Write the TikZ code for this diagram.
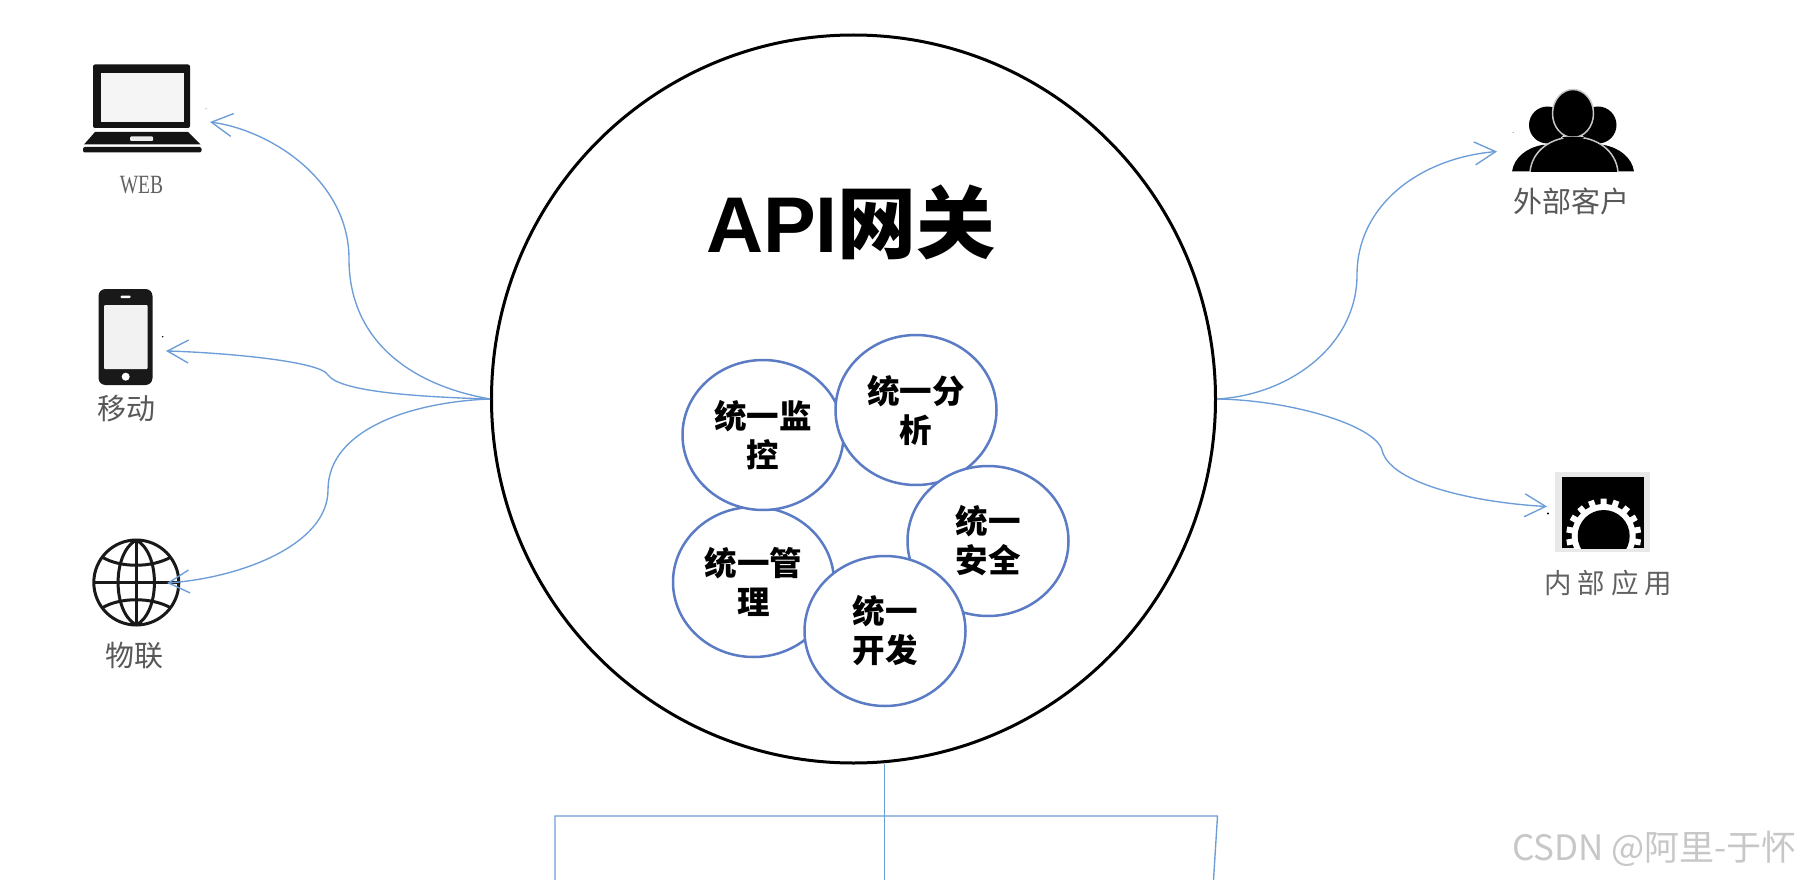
\documentclass[tikz,border=0pt]{standalone}
\usepackage{fontspec}
\usetikzlibrary{shapes.geometric,arrows.meta}
\setmainfont{Liberation Sans}
\newfontfamily\cjkreg{Noto Sans CJK SC}
\newfontfamily\serifl{Liberation Serif}
\definecolor{linkblue}{HTML}{6C9DD8}
\definecolor{ringblue}{HTML}{5B7CC4}
\definecolor{labelgrey}{HTML}{585858}
\tikzset{
  link/.style={draw=linkblue,line width=1.35pt,-{Straight Barb[length=21pt,width=23pt,line width=1.35pt]}},
  plain/.style={draw=linkblue,line width=1.35pt},
  gate/.style={ellipse,draw=black,line width=3pt,fill=white,inner sep=0pt,minimum width=724pt,minimum height=728pt},
  unit/.style={ellipse,draw=ringblue,line width=2.5pt,fill=white,inner sep=0pt,minimum width=161pt,minimum height=150pt,align=center,font={\cjkreg\bfseries\fontsize{32.5}{39}\selectfont}},
  iconlabel/.style={text=labelgrey,inner sep=0pt,font={\cjkreg\fontsize{29}{30}\selectfont}},
}
\begin{document}
\begin{tikzpicture}[x=1pt,y=-1pt]
\useasboundingbox (0,0) rectangle (1802,880);
\fill[white] (0,0) rectangle (1802,880);

% gateway
\node[gate] (gw) at (853.5,399) {};
\node[inner sep=0pt] (title) at (851,222) {\bfseries\fontsize{79}{80}\selectfont API{\cjkreg\bfseries 网关}};
\node[unit] (mgmt) at (753.5,582) {统一管\\理};
\node[unit] (mon) at (763,435) {统一监\\控};
\node[unit] (ana) at (916,410) {统一分\\析};
\node[unit] (sec) at (988,541) {统一\\安全};
\node[unit] (dev) at (885,631) {统一\\开发};

% free ends
\coordinate (tipweb) at (210,122);
\coordinate (tipmob) at (166,351);
\coordinate (tipiot) at (167,583);
\coordinate (tipext) at (1497,151.5);
\coordinate (tipint) at (1547,506.5);
\coordinate (stem) at (884.5,764);
\coordinate (stemb) at (884.5,880);
\coordinate (barl) at (555,816);
\coordinate (barr) at (1217.5,816);
\coordinate (legl) at (555,880);
\coordinate (legr) at (1213.5,880);

% left connectors
\draw[link] (gw.west) .. controls (410,385) and (349,340) .. (349,259) .. controls (349,180) and (270,130) .. (tipweb);
\draw[link] (gw.west) .. controls (420,397) and (340,392) .. (328,375) .. controls (320,360) and (210,352) .. (tipmob);
% right connectors
\draw[link] (gw.east) .. controls (1290,395) and (1357,345) .. (1357,275) .. controls (1357,205) and (1420,158) .. (tipext);
\draw[link] (gw.east) .. controls (1290,400) and (1375,425) .. (1382,450) .. controls (1390,485) and (1480,503) .. (tipint);
% bottom tree
\draw[plain] (stem) -- (stemb);
\draw[plain] (legl) -- (barl) -- (barr) -- (legr);

% laptop
\fill[black!92,rounded corners=2pt] (93,64.5) rectangle (190,128);
\fill[black!4] (100.5,73) rectangle (184,122);
\fill[black!92] (95,132) -- (188,132) -- (200.5,144.5) -- (84,144.5) -- cycle;
\fill[white!92!black,rounded corners=1pt] (130,136.5) rectangle (153,141);
\fill[black!92,rounded corners=2pt] (83,147) rectangle (201.5,152.5);
\node[inner sep=0pt,text=black!62,font={\serifl\fontsize{19.5}{20}\selectfont},yscale=1.35] (lweb) at (141.5,185) {WEB};

% phone
\fill[black!90,rounded corners=7pt] (98.5,289) rectangle (152.5,385);
\fill[black!5,rounded corners=1pt] (104,305) rectangle (147.5,369);
\fill[white,rounded corners=1pt] (120.5,295.5) rectangle (130.5,298);
\fill[white] (125.7,376.7) circle[radius=4];
\node[iconlabel] (lmob) at (126,409) {移动};

% globe
\begin{scope}[black!90,line width=3pt]
  \draw (136.3,582.5) circle[radius=42.5];
  \draw (136.3,540) .. controls (112,553) and (112,612) .. (136.3,625);
  \draw (136.3,540) .. controls (160.5,553) and (160.5,612) .. (136.3,625);
  \draw (136.3,540) -- (136.3,625);
  \draw (94,582.5) -- (178.5,582.5);
  \draw (102,557) .. controls (120,568) and (152,568) .. (171,557);
  \draw (102,608) .. controls (120,597) and (152,597) .. (171,608);
\end{scope}
\node[iconlabel] (liot) at (134,655.5) {物联};

% iot connector drawn over the globe
\draw[link] (gw.west) .. controls (410,402) and (328,430) .. (328,490) .. controls (328,545) and (240,578) .. (tipiot);

% people
\fill[black] (1512,171.5) .. controls (1514,158) and (1526,148) .. (1542,145) -- (1604,145) .. controls (1620,148) and (1632,158) .. (1634,171.5) -- cycle;
\fill[black] (1547.5,125) ellipse[x radius=18.5,y radius=18.5];
\fill[black] (1598,125) ellipse[x radius=18.5,y radius=18.5];
\filldraw[fill=black,draw=white!78!black,line width=1.5pt] (1573,113.5) ellipse[x radius=20.5,y radius=24];
\filldraw[fill=black,draw=white!78!black,line width=1.5pt] (1530,172) .. controls (1532,150) and (1552,137) .. (1574,137) .. controls (1596,137) and (1616,150) .. (1618,172);
\fill[white] (1505,171.8) rectangle (1640,178);
\fill[black] (1562,137) -- (1584,137) -- (1580,141) -- (1566,141) -- cycle;
\node[iconlabel] (lext) at (1571.5,201) {外部客户};

% gear application
\fill[black!9] (1555,472) rectangle (1650,552);
\begin{scope}
  \clip (1561.7,477.3) rectangle (1644.3,548);
  \fill[black] (1561.7,477.3) rectangle (1644.3,548);
  \foreach \a in {-190,-170,...,10} {
    \fill[white] (1603.7,536) ++(\a:30) -- ++(\a-90:3) -- ++(\a:7.5) -- ++(\a+90:6) -- ++(\a:-7.5) -- cycle;
  }
  \fill[white] (1603.7,536) circle[radius=32];
  \fill[black] (1603.7,536) circle[radius=26];
\end{scope}
\node[inner sep=0pt,text=black!62,font={\cjkreg\fontsize{27.5}{30}\selectfont}] (lint) at (1608,583) {内\kern6pt 部\kern6pt 应\kern6pt 用};

% specks
\fill[black!60] (206,108.6) circle[radius=.5];
\fill[black] (162.7,336.7) circle[radius=.8];
\fill[black!60] (1513,132.5) circle[radius=.5];
\fill[black] (1548,513.5) circle[radius=1.2];

% watermark
\node[inner sep=0pt,anchor=east,text=black!22,font={\cjkreg\fontsize{35}{37}\selectfont}] (mark) at (1797,849) {CSDN @阿里-于怀};
\end{tikzpicture}
\end{document}
